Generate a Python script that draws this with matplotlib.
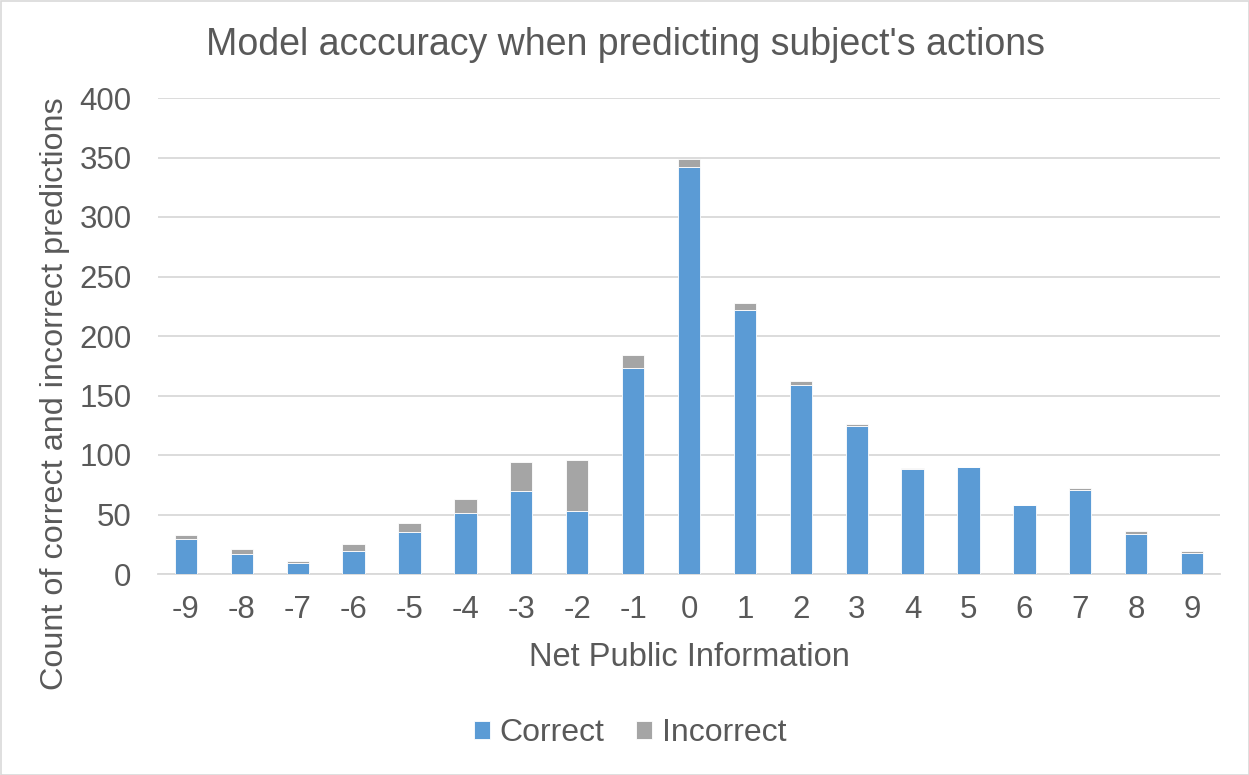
import matplotlib
matplotlib.use("Agg")
import matplotlib.pyplot as plt
from matplotlib.patches import Rectangle

categories = ["-9", "-8", "-7", "-6", "-5", "-4", "-3", "-2", "-1", "0",
              "1", "2", "3", "4", "5", "6", "7", "8", "9"]
correct = [29, 17, 9, 19, 35, 51, 70, 53, 173, 342, 222, 159, 124, 88, 90, 58, 71, 34, 18]
total = [33, 21, 11, 25, 43, 63, 94, 96, 184, 349, 228, 162, 126, 89, 90, 58, 72, 36, 19]
incorrect = [t - c for t, c in zip(total, correct)]
yticks = [0, 50, 100, 150, 200, 250, 300, 350, 400]

plt.rcParams['font.family'] = ['Liberation Sans', 'DejaVu Sans']
txt = '#595959'
blue = '#5B9BD5'
gray = '#A5A5A5'

W, H = 1249, 775
fig = plt.figure(figsize=(W / 100, H / 100), dpi=100)
ax = fig.add_axes([158 / W, 1 - 574 / H, (1220 - 158) / W, (574 - 98) / H])

x = list(range(len(categories)))
ax.bar(x, correct, width=0.4, color=blue, edgecolor='white', linewidth=0.6, label='Correct', zorder=3)
ax.bar(x, incorrect, width=0.4, bottom=correct, color=gray, edgecolor='white', linewidth=0.6, label='Incorrect', zorder=3)

ax.set_xlim(-0.5, len(categories) - 0.5)
ax.set_ylim(0, 400)
ax.set_yticks(yticks)
ax.set_yticklabels([str(v) for v in yticks])
ax.set_xticks(x)
ax.set_xticklabels(categories)
ax.grid(axis='y', color='#D9D9D9', linewidth=1.3, zorder=0)
for s in ['top', 'right', 'left']:
    ax.spines[s].set_visible(False)
ax.spines['bottom'].set_color('#D9D9D9')
ax.spines['bottom'].set_linewidth(1.3)
ax.tick_params(axis='both', length=0, labelsize=22.5, colors=txt)
ax.tick_params(axis='x', pad=15)
ax.tick_params(axis='y', pad=19)

fig.text(689 / W, 1 - 657 / H, 'Net Public Information', ha='center', va='center',
         fontsize=23.5, color=txt)
fig.text(55 / W, 1 - 394 / H, 'Count of correct and incorrect predictions', ha='center', va='center',
         rotation=90, fontsize=23.3, color=txt)
fig.text(625 / W, 1 - 45 / H, "Model acccuracy when predicting subject's actions",
         ha='center', va='center', fontsize=27, color=txt)

leg = fig.legend(loc='center', bbox_to_anchor=(630 / W, 1 - 733 / H), ncol=2, frameon=False,
                 fontsize=23, handlelength=0.5, handleheight=0.5, handletextpad=0.3,
                 columnspacing=1.0)
for t in leg.get_texts():
    t.set_color(txt)

fig.patches.append(Rectangle((0.5 / W, 0.5 / H), 1 - 1 / W, 1 - 1 / H, transform=fig.transFigure,
                             fill=False, edgecolor='#D9D9D9', linewidth=1.2))

fig.savefig('out.png', dpi=100, facecolor='white')
